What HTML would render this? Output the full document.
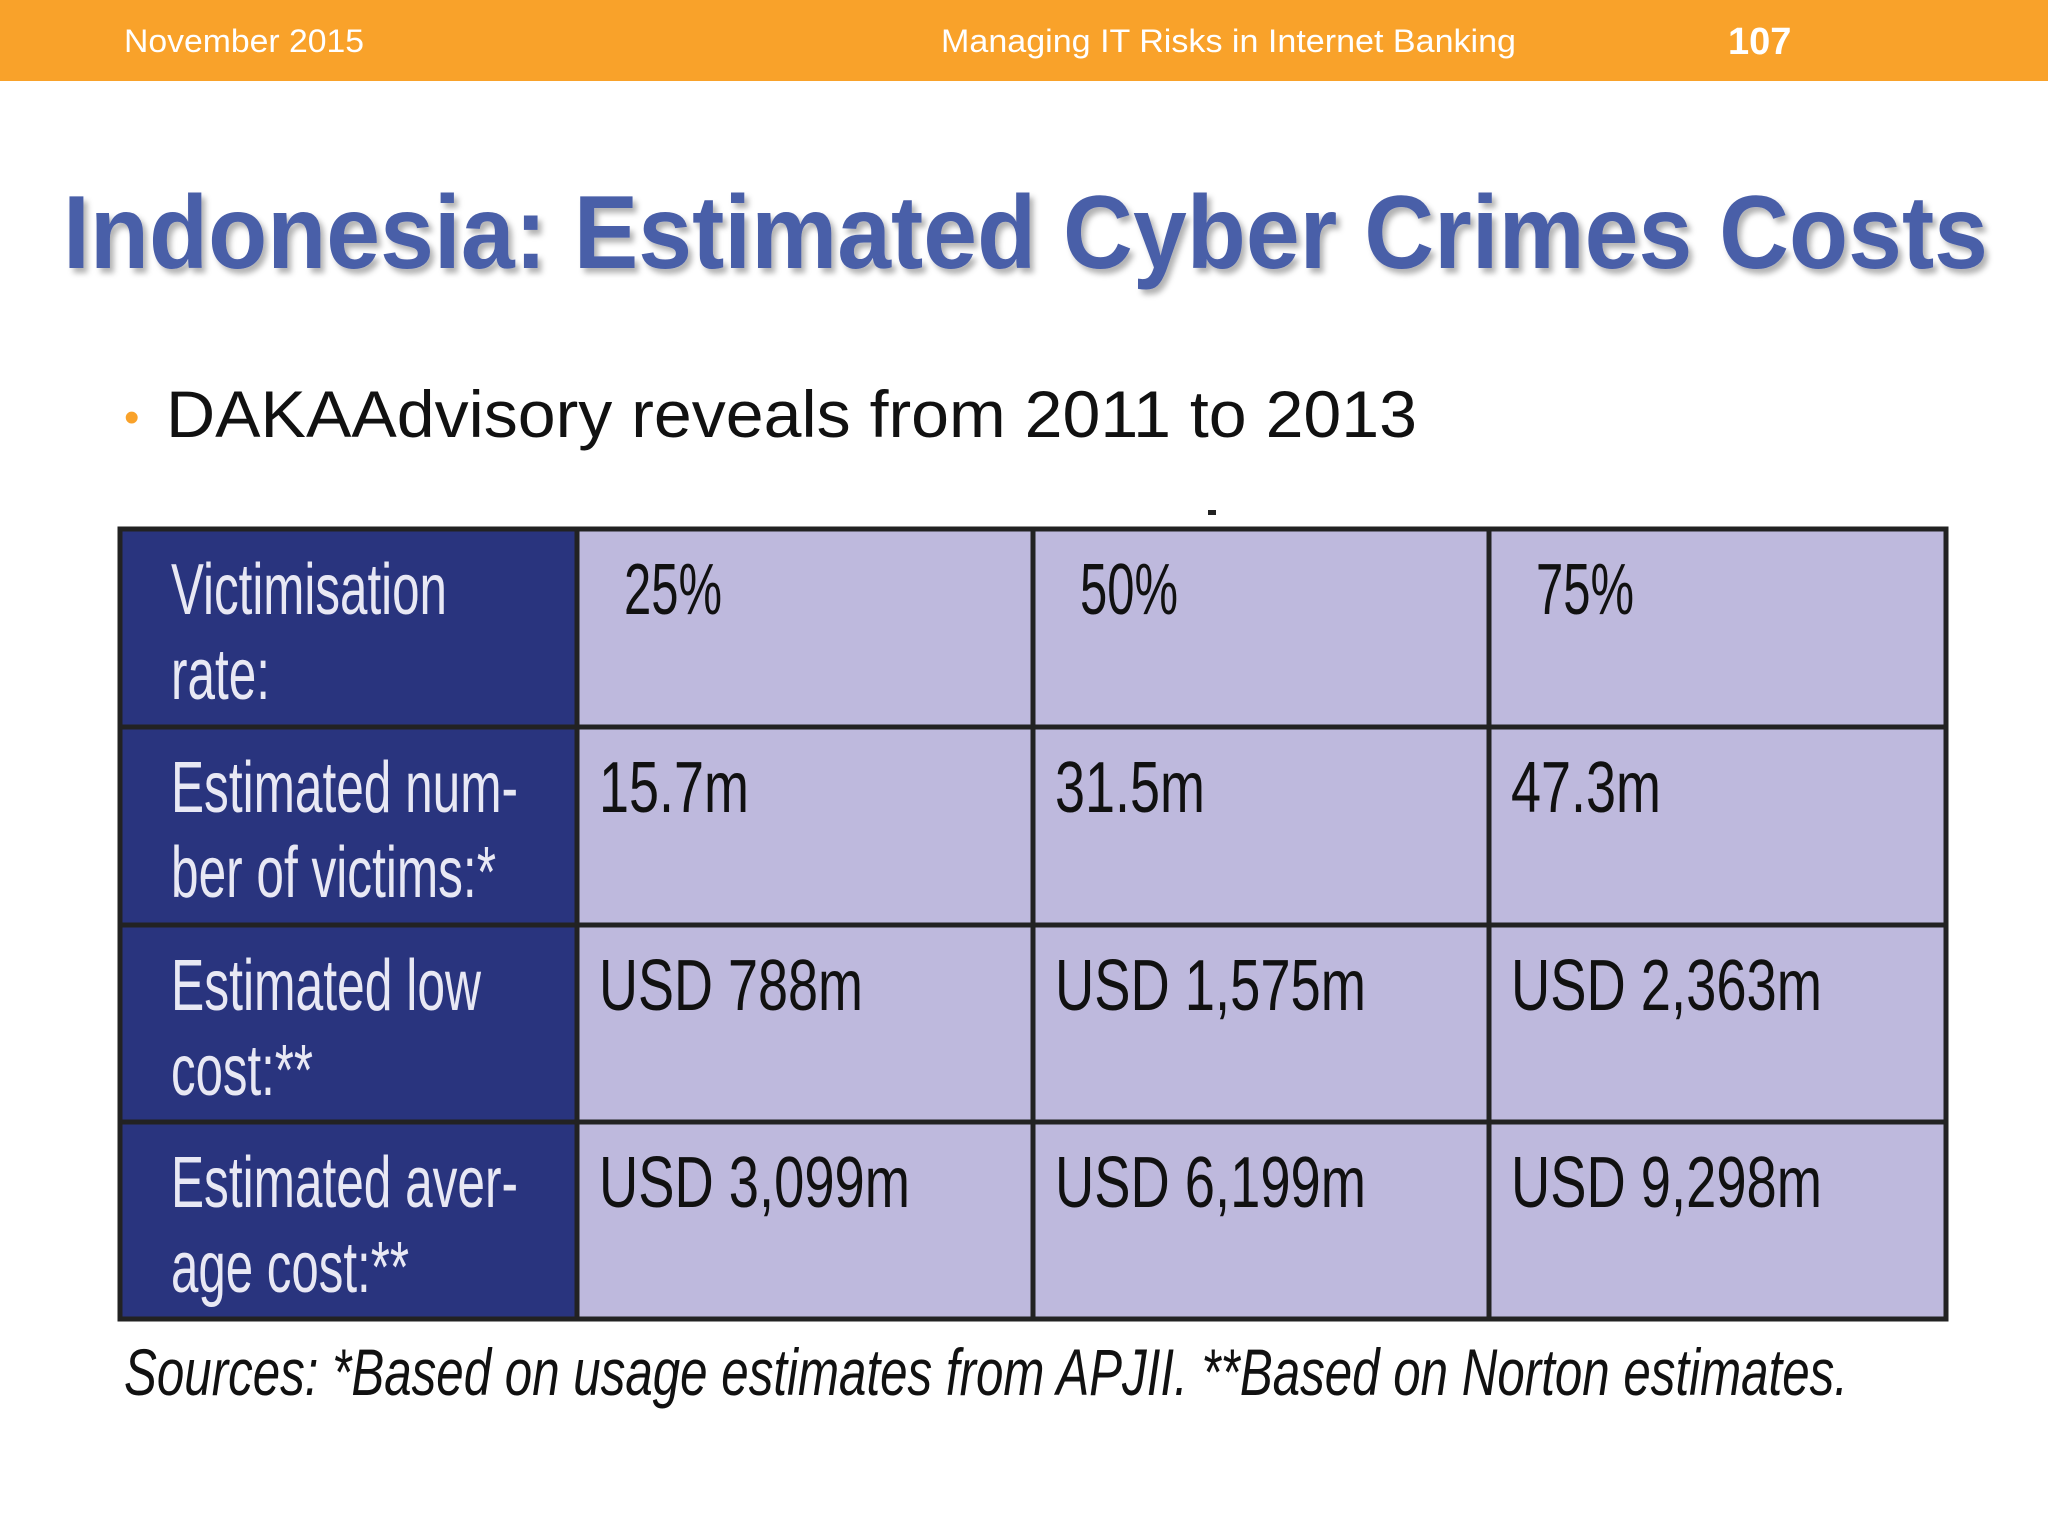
<!DOCTYPE html>
<html><head><meta charset="utf-8"><style>
html,body{margin:0;padding:0;background:#fff;}
svg{display:block;font-family:"Liberation Sans",sans-serif;}
</style></head><body>
<svg width="2048" height="1536" viewBox="0 0 2048 1536">
<defs><filter id="sh" x="-5%" y="-20%" width="110%" height="140%"><feDropShadow dx="4" dy="5" stdDeviation="3" flood-color="#000" flood-opacity="0.3"/></filter></defs>
<rect x="0" y="0" width="2048" height="81" fill="#F9A22A"/>
<text x="124" y="52" font-size="32" fill="#fff" textLength="240" lengthAdjust="spacingAndGlyphs">November 2015</text>
<text x="941" y="52" font-size="32" fill="#fff" textLength="575" lengthAdjust="spacingAndGlyphs">Managing IT Risks in Internet Banking</text>
<text x="1728" y="54" font-size="38" font-weight="bold" fill="#fff">107</text>
<text x="63" y="268" font-size="104" font-weight="bold" fill="#4A5EA8" filter="url(#sh)" textLength="1925" lengthAdjust="spacingAndGlyphs">Indonesia: Estimated Cyber Crimes Costs</text>
<text x="124" y="432" font-size="44" fill="#F9A22A">•</text>
<text x="166" y="437" font-size="66" fill="#111" textLength="1251" lengthAdjust="spacingAndGlyphs">DAKAAdvisory reveals from 2011 to 2013</text>
<rect x="1208" y="510" width="8" height="5" fill="#222"/>
<g id="tbl"></g>
<text x="124" y="1395" font-size="66" font-style="italic" fill="#111" textLength="1724" lengthAdjust="spacingAndGlyphs">Sources: *Based on usage estimates from APJII. **Based on Norton estimates.</text>
</svg>
<script>
const rowLabels=[["Victimisation","rate:"],["Estimated num-","ber of victims:*"],["Estimated low","cost:**"],["Estimated aver-","age cost:**"]];
const labelWidths=[[276,99],[347,325],[310,142],[347,238]];
const values=[["25%","50%","75%"],["15.7m","31.5m","47.3m"],["USD 788m","USD 1,575m","USD 2,363m"],["USD 3,099m","USD 6,199m","USD 9,298m"]];
const NS="http://www.w3.org/2000/svg";
const g=document.getElementById('tbl');
const xs=[120,577,1033,1489,1946], ys=[529,727,925,1122,1319];
function mk(t,a){const e=document.createElementNS(NS,t);for(const k in a)e.setAttribute(k,a[k]);g.appendChild(e);return e;}
for(let r=0;r<4;r++){for(let c=0;c<4;c++){
 const cell=mk('rect',{x:xs[c],y:ys[r],width:xs[c+1]-xs[c],height:ys[r+1]-ys[r],fill:c==0?'#29347E':'#BEB9DD',stroke:'#222',"stroke-width":5});
 
 
}}
for(let r=0;r<4;r++){
 for(let l=0;l<2;l++){
  const t=mk('text',{x:171,y:ys[r]+85+l*85,"font-size":72,fill:'#E8E8F4',textLength:labelWidths[r][l],lengthAdjust:'spacingAndGlyphs'});
  t.textContent=rowLabels[r][l];
  
  
 }
 for(let c=0;c<3;c++){
  const v=values[r][c];
  const x=r==0?xs[c+1]+47:xs[c+1]+22;
  const w=r==0?98:(v.length<=5?150:(v.length<=8?264:311));
  const t=mk('text',{x:x,y:ys[r]+85,"font-size":72,fill:'#111',textLength:w,lengthAdjust:'spacingAndGlyphs'});
  t.textContent=v;
  
  
 }
}
</script>
</body></html>
